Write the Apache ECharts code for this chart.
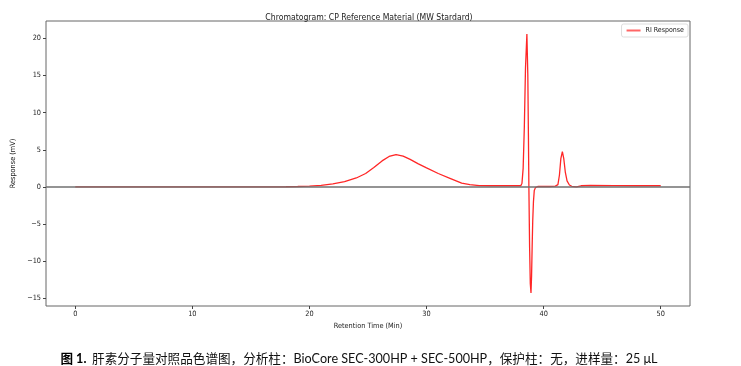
<!DOCTYPE html>
<html><head><meta charset="utf-8">
<script src="https://cdn.jsdelivr.net/npm/echarts@6/dist/echarts.min.js"></script>
<style>html,body{margin:0;padding:0;background:#fff}#c{width:741px;height:366px}</style>
</head><body><div id="c"></div>
<script>
const chartTitle = 'Chromatogram: CP Reference Material (MW Stardard)';
const xName = 'Retention Time (Min)';
const yName = 'Response (mV)';
const seriesName = 'RI Response';
const caption = '肝素分子量对照品色谱图，分析柱：BioCore SEC-300HP + SEC-500HP，保护柱：无，进样量：25 μL';
const xTicks = [0, 10, 20, 30, 40, 50];
const yTicks = [-15, -10, -5, 0, 5, 10, 15, 20];
const times = [0, 5, 10, 15, 18, 19, 20, 21, 22, 23, 24, 24.8, 25.5, 26.2, 26.8, 27.4, 28.0, 28.6, 29.3, 30.0, 31.0, 32.0, 33.0, 33.7, 34.5, 35.5, 36.5, 37.5, 38.05,
  38.15, 38.25, 38.35, 38.45, 38.57, 38.65, 38.7, 38.74, 38.8, 38.86, 38.92, 38.97, 39.02, 39.07, 39.13, 39.2, 39.3, 39.5,
  40.0, 40.5, 41.0, 41.22, 41.35, 41.47, 41.6, 41.72, 41.85, 42.0, 42.2, 42.4, 42.8, 43.2, 44, 46, 48, 50];
const response = [0, 0, 0, 0, 0.02, 0.05, 0.1, 0.2, 0.4, 0.7, 1.2, 1.8, 2.6, 3.5, 4.1, 4.35, 4.15, 3.7, 3.1, 2.55, 1.8, 1.15, 0.5, 0.3, 0.18, 0.15, 0.15, 0.15, 0.15,
  0.5, 2.5, 8, 16, 20.6, 15, 7, 0, -8, -13, -14.3, -12, -8, -4.5, -2, -0.5, -0.1, 0.05,
  0.05, 0.05, 0.1, 0.3, 1.6, 3.8, 4.75, 3.8, 2, 0.8, 0.25, 0.08, 0.0, 0.15, 0.2, 0.18, 0.15, 0.15];

const data = times.map((t, i) => [t, response[i]]);
const fmt = v => (v < 0 ? '\u2212' + Math.abs(v) : String(v));
const F = "'DejaVu Sans Condensed', 'DejaVu Sans'";
const chart = echarts.init(document.getElementById('c'));
chart.setOption({
  animation: false,
  backgroundColor: '#fff',
  textStyle: { fontFamily: F },
  title: [{
    text: chartTitle, left: 364, top: 8, textAlign: 'center',
    textStyle: { fontSize: 8.6, fontWeight: 'normal', color: '#222', fontFamily: F }
  }, {
    text: '{b|图 1.} {n|' + caption + '}', left: 354, top: 345, textAlign: 'center',
    textStyle: {
      rich: {
        b: { fontWeight: 'bold', fontSize: 12.6, color: '#000', fontFamily: 'Lato, Noto Sans CJK SC' },
        n: { fontWeight: 'normal', fontSize: 12.6, color: '#111', fontFamily: 'Lato, Noto Sans CJK SC' }
      }
    }
  }],
  legend: {
    data: [seriesName], right: 53, top: 24, orient: 'vertical',
    itemWidth: 14, itemHeight: 2, itemGap: 4, padding: [3, 4, 3, 5],
    borderColor: '#ddd', borderWidth: 1, borderRadius: 2,
    icon: 'rect',
    textStyle: { fontSize: 7, color: '#222', fontFamily: F }
  },
  grid: { left: 46, right: 51, top: 21, bottom: 60, show: true, borderColor: '#666', borderWidth: 1, backgroundColor: 'transparent' },
  xAxis: {
    type: 'value', min: -2.5, max: 52.5,
    name: xName, nameLocation: 'middle', nameGap: 16,
    nameTextStyle: { fontSize: 7.3, color: '#222' },
    axisLine: { show: false, onZero: false },
    splitLine: { show: false },
    axisTick: { show: true, length: 3, lineStyle: { color: '#444' }, customValues: xTicks },
    axisLabel: { fontSize: 7.3, color: '#222', margin: 5, customValues: xTicks, formatter: fmt }
  },
  yAxis: {
    type: 'value', min: -16.05, max: 22.35,
    name: yName, nameLocation: 'middle', nameGap: 25, nameRotate: 90,
    nameTextStyle: { fontSize: 7.3, color: '#222' },
    axisLine: { show: false, onZero: false },
    splitLine: { show: false },
    axisTick: { show: true, length: 3, lineStyle: { color: '#444' }, customValues: yTicks },
    axisLabel: { fontSize: 7.3, color: '#222', margin: 5, customValues: yTicks, formatter: fmt }
  },
  series: [{
    name: seriesName, type: 'line', data: data, showSymbol: false, smooth: false,
    lineStyle: { color: 'rgba(255,0,0,0.85)', width: 1.3 },
    itemStyle: { color: 'rgba(255,0,0,0.6)' },
    markLine: {
      silent: true, symbol: 'none', label: { show: false },
      lineStyle: { color: '#707070', width: 1.6, type: 'solid' },
      data: [{ yAxis: 0 }]
    }
  }]
});
</script></body></html>
